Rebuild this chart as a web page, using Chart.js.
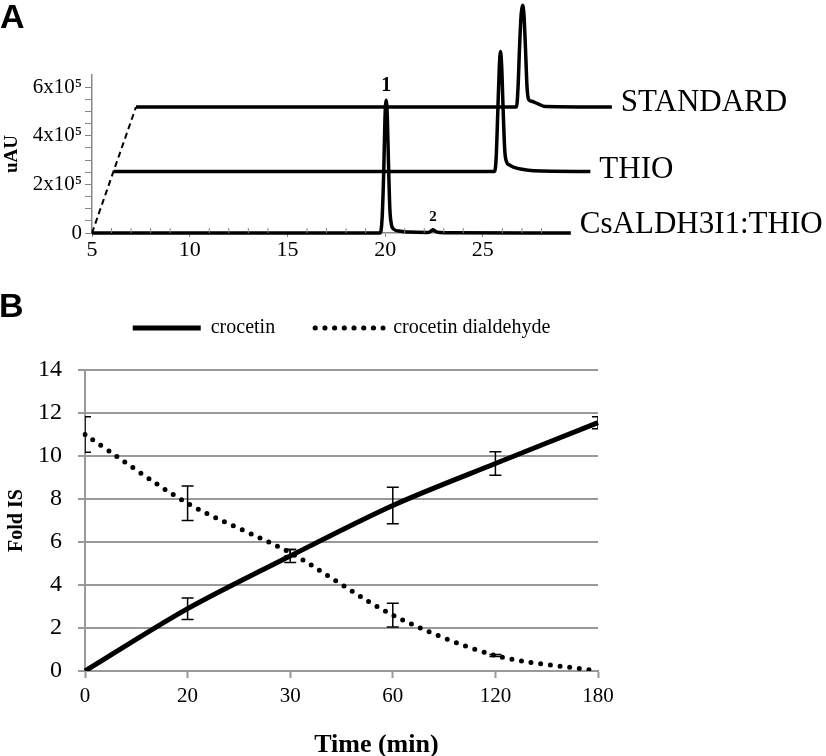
<!DOCTYPE html>
<html>
<head>
<meta charset="utf-8">
<script src="https://cdn.jsdelivr.net/npm/chart.js@4/dist/chart.umd.min.js"></script>
<style>
  body { margin: 0; background: #fff; }
  #wrap { position: relative; width: 826px; height: 756px; overflow: hidden; }
  canvas { position: absolute; left: 0; }
  #chartA { top: 0; }
  #chartB { top: 262px; }
  .panel { position: absolute; font: bold 34px "Liberation Sans", Arial, sans-serif; line-height: 1; }
</style>
</head>
<body>
<div id="wrap">
  <canvas id="chartA" width="826" height="262"></canvas>
  <canvas id="chartB" width="826" height="494"></canvas>
  <div class="panel" style="left:0;top:-1px">A</div>
  <div class="panel" style="left:-1px;top:288px">B</div>
</div>
<script>
// Panel A: chromatograms (signal in units of 10^5 uAU, time in min)
const traceNames = ["STANDARD", "THIO", "CsALDH3I1:THIO"];

const standardTime = [7.25, 26.72, 26.8, 26.88, 26.96, 27.03, 27.1, 27.18, 27.26, 27.34, 27.5, 27.8, 28.2, 31.6];
const standardSignal = [5.18, 5.18, 6.0, 7.7, 9.0, 9.37, 9.0, 7.6, 6.0, 5.5, 5.42, 5.32, 5.2, 5.18];

const thioTime = [6.11, 25.6, 25.68, 25.76, 25.84, 25.9, 25.96, 26.04, 26.12, 26.2, 26.35, 26.6, 27.0, 27.6, 30.5];
const thioSignal = [2.53, 2.53, 3.1, 4.9, 6.8, 7.47, 6.9, 5.0, 3.4, 2.95, 2.8, 2.7, 2.62, 2.56, 2.53];

const assayTime = [5, 19.75, 19.85, 19.93, 19.99, 20.05, 20.11, 20.17, 20.24, 20.32, 20.45, 20.7, 21.2, 22.15, 22.3, 22.38, 22.45, 22.52, 22.6, 22.8, 23.5, 29.5];
const assaySignal = [0, 0, 0.7, 2.6, 4.7, 5.46, 4.8, 2.9, 1.0, 0.35, 0.15, 0.08, 0.04, 0.02, 0.05, 0.1, 0.13, 0.1, 0.05, 0.02, 0.01, 0];

// dashed offset line joining the start of the stacked traces
const rampTime = [5, 7.25];
const rampSignal = [0, 5.18];

const peakNames = ["1", "2"];
const peakTime = [20.05, 22.45];
const peakSignal = [5.46, 0.13];

// Panel B: time course (fold IS)
const timeLabels = ["0", "20", "30", "60", "120", "180"];
const crocetin = [0, 2.9, 5.35, 7.7, 9.65, 11.55];
const crocetinSd = [0, 0.5, 0.3, 0.85, 0.55, 0.28];
const dialdehyde = [11.0, 7.8, 5.5, 2.6, 0.72, 0.0];
const dialdehydeSd = [0.82, 0.8, 0.15, 0.55, 0.05, 0];

Chart.defaults.font.family = "'Liberation Serif', 'Times New Roman', serif";
Chart.defaults.color = "#000";

function punten(xs, ys) {
    return xs.map((x, i) => ({ x: x, y: ys[i] }));
}

// names at the end of each trace, peak numbers and minor ticks
const sporenLabels = {
    id: "sporenLabels",
    afterDraw(chart) {
        const ctx = chart.ctx;
        const xs = chart.scales.x;
        const ys = chart.scales.y;
        const dy = [4, 6, 0];
        ctx.save();
        ctx.fillStyle = "#000";
        ctx.font = "31px 'Liberation Serif'";
        ctx.textBaseline = "alphabetic";
        traceNames.forEach((naam, i) => {
            const pts = chart.getDatasetMeta(i).data;
            const last = pts[pts.length - 1];
            ctx.fillText(naam, last.x + 9, last.y + dy[i]);
        });

        ctx.textAlign = "center";
        peakNames.forEach((n, i) => {
            ctx.font = (i === 0 ? "bold 20px" : "bold 15px") + " 'Liberation Serif'";
            ctx.fillText(n, xs.getPixelForValue(peakTime[i]), ys.getPixelForValue(peakSignal[i]) - 9);
        });

        ctx.strokeStyle = "#888";
        ctx.lineWidth = 1;
        xs.ticks.forEach(t => {
            if (Number.isInteger(t.value) && t.value % 5 !== 0) {
                const px = xs.getPixelForValue(t.value);
                ctx.beginPath();
                ctx.moveTo(px, xs.top);
                ctx.lineTo(px, xs.top - 5);
                ctx.stroke();
            }
        });
        ctx.restore();
    }
};

const traceStyle = {
    borderColor: "#000",
    borderWidth: 3.5,
    pointRadius: 0,
    fill: false,
    clip: false,
    cubicInterpolationMode: "monotone"
};

new Chart(document.getElementById("chartA"), {
    type: "line",
    data: {
        datasets: [
            { ...traceStyle, label: traceNames[0], data: punten(standardTime, standardSignal) },
            { ...traceStyle, label: traceNames[1], data: punten(thioTime, thioSignal) },
            { ...traceStyle, label: traceNames[2], data: punten(assayTime, assaySignal) },
            {
                label: "offset",
                data: punten(rampTime, rampSignal),
                borderColor: "#000",
                borderWidth: 2,
                borderDash: [6, 4],
                pointRadius: 0,
                clip: false
            }
        ]
    },
    options: {
        responsive: false,
        animation: false,
        devicePixelRatio: 1,
        layout: { padding: { left: 0, top: 75, right: 263, bottom: 0 } },
        plugins: { legend: { display: false }, tooltip: { enabled: false } },
        scales: {
            x: {
                type: "linear",
                min: 5,
                max: 29.1,
                border: { color: "#888", width: 1.5 },
                grid: {
                    drawOnChartArea: false,
                    tickLength: 4,
                    tickColor: c => (c.tick && c.tick.value % 5 === 0) ? "#888" : "transparent"
                },
                ticks: {
                    stepSize: 1,
                    autoSkip: false,
                    maxRotation: 0,
                    padding: 0,
                    font: { size: 22 },
                    callback: v => (v % 5 === 0 ? v : "")
                },
                afterFit: s => { s.height = 29; }
            },
            y: {
                min: 0,
                max: 6.5,
                border: { color: "#888", width: 1.5 },
                grid: {
                    drawOnChartArea: false,
                    tickLength: 7,
                    tickColor: c => (c.tick && c.tick.value > 6.2) ? "transparent" : "#888"
                },
                ticks: {
                    stepSize: 0.5,
                    autoSkip: false,
                    padding: 3,
                    font: { size: 21 },
                    callback: v => (v === 0 ? "0" : (v % 2 === 0 ? v + "x10\u2075" : ""))
                },
                title: {
                    display: true,
                    text: "uAU",
                    font: { size: 19, weight: "bold" },
                    padding: { top: 1, bottom: 0 }
                },
                afterFit: s => { s.width = 92; }
            }
        }
    },
    plugins: [sporenLabels]
});

// error bars (clipped to the plot area) and the x axis title
const foutBalken = {
    id: "foutBalken",
    afterDatasetsDraw(chart) {
        const { ctx, chartArea: a } = chart;
        const ys = chart.scales.y;
        ctx.save();
        ctx.beginPath();
        ctx.rect(a.left, a.top, a.right - a.left, a.bottom - a.top);
        ctx.clip();
        ctx.strokeStyle = "#000";
        ctx.lineWidth = 1.5;
        [crocetinSd, dialdehydeSd].forEach((sd, d) => {
            const mean = chart.data.datasets[d].data;
            chart.getDatasetMeta(d).data.forEach((pt, i) => {
                if (!sd[i]) return;
                const top = ys.getPixelForValue(mean[i] + sd[i]);
                const bot = ys.getPixelForValue(mean[i] - sd[i]);
                ctx.beginPath();
                ctx.moveTo(pt.x, top);
                ctx.lineTo(pt.x, bot);
                ctx.moveTo(pt.x - 6, top);
                ctx.lineTo(pt.x + 6, top);
                ctx.moveTo(pt.x - 6, bot);
                ctx.lineTo(pt.x + 6, bot);
                ctx.stroke();
            });
        });
        ctx.restore();
    },
    afterDraw(chart) {
        const { ctx, chartArea: a } = chart;
        ctx.save();
        ctx.fillStyle = "#000";
        ctx.font = "bold 26px 'Liberation Serif'";
        ctx.textAlign = "center";
        ctx.textBaseline = "alphabetic";
        ctx.fillText("Time (min)", a.left + (a.right - a.left) * 0.568, chart.height - 4);
        ctx.restore();
    }
};

new Chart(document.getElementById("chartB"), {
    type: "line",
    data: {
        labels: timeLabels,
        datasets: [
            {
                label: "crocetin",
                data: crocetin,
                borderColor: "#000",
                borderWidth: 5,
                pointRadius: 0,
                tension: 0.3
            },
            {
                label: "crocetin dialdehyde",
                data: dialdehyde,
                borderColor: "#000",
                borderWidth: 5,
                borderDash: [0, 9.7],
                borderCapStyle: "round",
                pointRadius: 0,
                tension: 0.3
            }
        ]
    },
    options: {
        responsive: false,
        animation: false,
        devicePixelRatio: 1,
        layout: { padding: { left: 0, top: 16, right: 228, bottom: 0 } },
        plugins: {
            legend: {
                position: "top",
                fullSize: false,
                labels: {
                    // zero-height box: its outline is drawn as a line sample
                    boxWidth: 68,
                    boxHeight: 0,
                    padding: 40,
                    color: "#000",
                    font: { size: 20 }
                }
            },
            // empty spacer between legend and plot
            title: {
                display: true,
                text: "",
                weight: 500,
                fullSize: false,
                padding: 0,
                font: { size: 22, lineHeight: 1 }
            },
            tooltip: { enabled: false }
        },
        scales: {
            x: {
                offset: false,
                border: { color: "#999", width: 2 },
                grid: { drawOnChartArea: false, tickLength: 7, tickColor: "#999", tickWidth: 2 },
                ticks: { padding: 6, maxRotation: 0, font: { size: 21 } },
                afterFit: s => { s.height = 85; }
            },
            y: {
                min: 0,
                max: 14,
                border: { color: "#999", width: 2 },
                grid: { color: "#999", lineWidth: 2, tickLength: 7 },
                ticks: { stepSize: 2, padding: 16, font: { size: 24 } },
                title: {
                    display: true,
                    text: "Fold IS",
                    font: { size: 20, weight: "bold" },
                    padding: { top: 5, bottom: 0 }
                },
                afterFit: s => { s.width = 85; }
            }
        }
    },
    plugins: [foutBalken]
});
</script>
</body>
</html>
